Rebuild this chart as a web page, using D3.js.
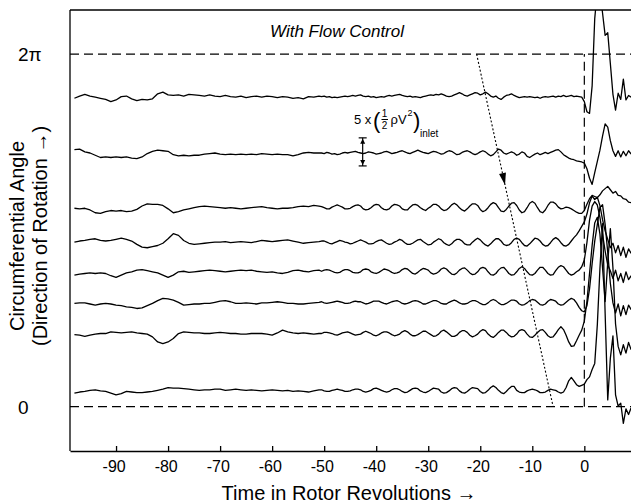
<!DOCTYPE html>
<html>
<head>
<meta charset="utf-8">
<script src="https://cdn.jsdelivr.net/npm/d3@7"></script>
<style>
  body { margin: 0; background: #fff; }
  svg text { font-family: "Liberation Sans", Arial, sans-serif; fill: #000; }
</style>
</head>
<body>
<div id="chart"></div>
<script>
const width = 631;
const height = 504;

// sample times (rotor revolutions): 1 rev steps, then 0.5 rev steps
const revs = [
  -98,-97,-96,-95,-94,-93,-92,-91,-90,-89,-88,-87,
  -86,-85,-84,-83,-82,-81,-80,-79,-78,-77,-76,-75,
  -74,-73,-72,-71,-70,-69,-68,-67,-66,-65,-64,-63,
  -62,-61,-60,-59,-58,-57,-56,-55,-54,-53,-52,-51,
  -50.5,-50,-49.5,-49,-48.5,-48,-47.5,-47,-46.5,-46,-45.5,-45,-44.5,-44,-43.5,
  -43,-42.5,-42,-41.5,-41,-40.5,-40,-39.5,-39,-38.5,-38,-37.5,-37,-36.5,-36,
  -35.5,-35,-34.5,-34,-33.5,-33,-32.5,-32,-31.5,-31,-30.5,-30,-29.5,-29,-28.5,
  -28,-27.5,-27,-26.5,-26,-25.5,-25,-24.5,-24,-23.5,-23,-22.5,-22,-21.5,-21,
  -20.5,-20,-19.5,-19,-18.5,-18,-17.5,-17,-16.5,-16,-15.5,-15,-14.5,-14,-13.5,
  -13,-12.5,-12,-11.5,-11,-10.5,-10,-9.5,-9,-8.5,-8,-7.5,-7,-6.5,-6,
  -5.5,-5,-4.5,-4,-3.5,-3,-2.5,-2,-1.5,-1,-0.5,
  0,0.5,1,1.5,2,2.5,3,3.5,4,4.5,5,5.5,6,6.5,7,7.5,8,8.5,9
];

// sensor positions round the annulus (degrees)
const sensorDeg = [316, 259, 202, 168, 136, 106, 73, 15];

// pressure traces in units of (1/2 rho V^2) inlet, one value per sample time
const trace1 = [
  -0.2,0.2,0.5,0.2,0.0,-0.2,-0.4,-0.8,-0.5,0.1,0.2,-0.3,
  -0.6,-0.4,-0.5,-0.3,0.6,0.9,0.4,0.3,0.4,0.2,0.5,0.4,
  0.3,0.2,0.4,0.2,0.1,0.3,0.1,0.0,0.2,-0.1,0.1,0.2,
  0.0,0.2,0.1,-0.1,0.1,0.0,-0.2,-0.1,-0.3,0.1,0.0,0.2,
  0.1,0.2,0.0,0.1,-0.1,0.0,-0.1,0.0,0.1,0.2,0.1,0.2,0.3,0.2,0.3,
  0.4,0.2,0.1,0.2,0.0,0.1,-0.1,0.0,0.1,0.0,0.2,0.3,0.2,0.3,0.4,
  0.5,0.3,0.2,0.1,0.2,0.0,0.1,0.0,-0.1,0.1,0.2,0.3,0.4,0.3,0.5,
  0.4,0.6,0.4,0.2,0.1,0.2,0.4,0.6,0.8,0.6,0.3,0.2,0.4,0.6,0.8,
  0.7,0.4,0.6,0.9,0.6,0.2,0.0,0.2,-0.2,-0.4,0.0,0.3,0.4,0.6,0.3,
  0.1,-0.1,0.0,0.1,0.0,0.1,0.0,-0.1,0.0,-0.2,0.0,0.1,0.0,0.1,0.2,
  0.0,0.2,0.1,0.3,0.1,0.2,0.3,0.1,0.2,0.1,0.0,
  -0.8,-2.6,-2.9,2.0,14,19,19,15,11,11.5,6,0.5,-2.3,0.7,-0.4,3.2,-0.5,0.3,0.0
];
const trace2 = [
  0.6,0.7,0.2,0.0,-0.4,-0.8,-0.7,-0.8,-0.7,-0.8,-0.7,-0.9,
  -1.0,-0.7,-0.1,0.3,0.5,0.4,0.3,-0.3,-0.5,-0.4,-0.5,-0.4,
  -0.4,-0.2,-0.1,0.0,-0.2,-0.3,-0.2,-0.3,-0.2,-0.3,-0.2,-0.3,
  -0.1,-0.2,-0.3,-0.2,-0.3,-0.3,-0.5,-0.3,0.0,0.1,0.0,0.0,
  0.0,-0.1,0.1,0.0,-0.2,-0.1,-0.3,-0.2,0.0,0.1,0.0,0.1,0.2,0.3,0.1,
  0.0,-0.1,0.0,0.2,0.1,0.0,-0.2,-0.1,0.0,0.2,0.3,0.1,-0.1,0.0,0.1,
  0.3,0.4,0.2,0.0,-0.1,0.1,0.3,0.5,0.3,0.1,0.0,-0.1,0.1,0.3,0.2,
  0.0,-0.2,-0.1,0.2,0.4,0.3,0.0,-0.3,-0.2,0.1,0.3,0.4,0.2,-0.1,-0.3,
  -0.1,0.2,0.4,0.2,-0.2,-0.5,-0.3,0.2,0.7,0.5,0.0,-0.2,0.0,0.2,0.0,
  -0.4,-0.2,0.2,0.0,-0.6,-0.8,-0.5,-0.2,0.0,-0.3,-0.1,0.1,-0.1,0.1,0.3,
  0.5,0.6,0.2,-0.3,-0.6,-0.9,-1.1,-1.2,-1.4,-1.5,-1.6,
  -1.8,-2.8,-4.5,-5.6,-3.5,-1.5,0.5,3.0,5.2,4.6,2.2,0.4,-0.6,0.4,-0.7,0.3,-0.5,0.4,-0.2
];
const trace3 = [
  0.1,0.0,0.1,-0.2,-0.7,-0.8,-0.5,-0.3,-0.4,-0.3,-0.5,-0.4,
  -0.1,0.5,0.9,0.8,0.8,0.6,0.0,-0.7,-0.5,-0.2,0.0,0.2,
  0.4,0.5,0.4,0.3,0.2,0.1,0.2,0.1,0.0,0.1,0.2,0.3,
  0.4,0.2,0.1,0.0,0.1,0.1,0.2,0.4,0.5,0.4,0.6,0.5,
  0.4,0.2,0.0,0.0,0.3,0.5,0.7,0.5,0.3,0.0,0.0,0.1,0.4,0.6,0.7,
  0.5,0.0,-0.2,-0.1,0.2,0.6,0.8,0.7,0.2,-0.1,-0.2,0.0,0.5,0.8,0.7,
  0.5,0.0,-0.2,-0.2,0.3,0.7,0.8,0.6,0.2,-0.1,-0.3,0.1,0.4,0.8,0.8,
  0.5,0.0,-0.3,-0.2,0.2,0.7,1.0,0.7,0.2,-0.2,-0.4,0.0,0.5,0.9,0.9,
  0.6,-0.1,-0.5,-0.3,0.2,0.8,1.1,0.9,0.2,-0.4,-0.5,-0.1,0.5,1.0,1.1,
  0.6,-0.2,-0.7,-0.5,0.2,1.0,1.3,1.0,0.2,-0.5,-0.7,-0.2,0.6,1.2,1.2,
  0.9,0.3,0.0,0.1,0.3,0.2,0.0,-0.3,-0.6,-0.8,-0.8,
  -0.3,0.8,1.8,2.4,2.2,2.0,2.5,3.2,3.6,4.0,3.4,2.8,3.1,2.4,2.3,1.8,1.7,1.2,1.1
];
const trace4 = [
  0.0,0.2,0.3,0.5,0.6,0.3,0.2,0.3,0.5,0.7,0.5,0.2,
  -0.4,-0.9,-1.0,-0.8,-0.6,-0.2,0.6,1.5,1.2,0.3,-0.2,-0.4,
  -0.3,-0.2,-0.1,0.0,0.0,0.1,-0.1,0.0,0.1,0.0,-0.1,0.1,
  0.3,0.2,0.1,0.2,0.3,0.4,0.2,0.0,-0.2,-0.1,0.0,0.1,
  0.2,0.2,0.0,-0.2,-0.3,-0.1,0.1,0.3,0.2,0.0,-0.1,-0.3,-0.2,0.0,0.2,
  0.4,0.2,0.0,-0.3,-0.3,-0.2,0.1,0.3,0.4,0.1,-0.2,-0.4,-0.3,0.0,0.2,
  0.5,0.3,-0.1,-0.4,-0.4,-0.2,0.1,0.4,0.5,0.1,-0.2,-0.5,-0.4,0.0,0.3,
  0.6,0.4,-0.1,-0.4,-0.6,-0.3,0.2,0.5,0.5,0.2,-0.3,-0.5,-0.5,0.0,0.4,
  0.7,0.4,-0.1,-0.5,-0.7,-0.3,0.2,0.6,0.6,0.2,-0.4,-0.6,-0.5,-0.1,0.5,
  0.7,0.5,-0.1,-0.6,-0.7,-0.3,0.2,0.7,0.6,0.2,-0.4,-0.7,-0.6,-0.1,0.5,
  0.8,0.5,-0.1,-0.6,-0.7,-0.4,0.2,0.8,1.3,2.0,2.8,
  3.6,5.0,7.0,8.2,7.6,8.0,6.5,4.0,2.0,0.5,-1.0,-0.2,-1.9,-0.6,-2.4,-0.9,-2.7,-1.2,-2.0
];
const trace5 = [
  -0.3,-0.1,0.0,0.1,0.0,0.1,0.0,-0.4,-0.7,-0.3,0.1,0.3,
  0.6,0.7,0.5,0.3,0.1,-0.3,-0.7,-0.3,0.3,0.4,0.2,0.3,
  0.4,0.5,0.6,0.5,0.4,0.3,0.4,0.5,0.6,0.5,0.6,0.4,
  0.3,0.2,0.3,0.1,0.0,0.2,0.5,0.6,0.4,0.3,0.5,0.6,
  0.4,0.6,0.7,0.6,0.4,0.2,0.1,0.2,0.5,0.7,0.7,0.5,0.2,0.1,0.1,
  0.3,0.7,0.8,0.7,0.3,0.1,0.0,0.2,0.5,0.8,0.7,0.5,0.2,0.0,0.1,
  0.3,0.7,0.9,0.8,0.4,0.0,-0.1,0.2,0.6,0.9,0.8,0.6,0.1,-0.1,0.0,
  0.3,0.8,1.0,0.8,0.3,-0.1,-0.2,0.1,0.6,0.9,1.0,0.6,0.1,-0.2,-0.1,
  0.3,0.9,1.1,0.9,0.3,-0.2,-0.3,0.0,0.6,1.0,1.1,0.6,0.0,-0.3,-0.2,
  0.3,0.9,1.2,0.9,0.3,-0.2,-0.3,0.0,0.6,1.1,1.1,0.6,0.0,-0.3,-0.2,
  0.5,1.1,1.4,1.2,0.6,0.0,-0.3,-0.1,0.3,0.6,1.2,
  2.4,5.5,9.5,12.0,12.8,12.2,10.0,7.0,4.0,1.5,0.5,-0.9,0.6,-1.3,0.0,-1.6,0.3,-1.1,-0.4
];
const trace6 = [
  -0.1,0.0,0.0,-0.2,-0.4,-0.2,-0.1,-0.2,-0.4,-0.5,-0.7,-0.8,
  -1.0,-0.9,-0.5,-0.1,0.4,0.8,0.7,0.5,0.1,-0.4,-0.3,-0.2,
  -0.2,-0.1,-0.1,0.1,0.3,0.4,0.2,-0.1,-0.1,0.0,-0.1,-0.2,
  0.0,0.0,0.1,0.2,0.1,-0.1,-0.1,-0.2,-0.2,-0.1,0.0,0.1,
  0.2,0.0,-0.1,0.0,0.1,0.2,0.3,0.2,0.1,-0.1,-0.1,0.0,0.2,0.3,0.2,
  0.2,0.0,-0.2,-0.1,0.1,0.3,0.3,0.3,0.1,-0.1,-0.2,0.0,0.2,0.3,0.4,
  0.2,-0.1,-0.2,-0.1,0.1,0.3,0.4,0.3,0.1,-0.2,-0.2,0.0,0.2,0.4,0.4,
  0.2,-0.1,-0.2,-0.2,0.1,0.3,0.5,0.3,0.0,-0.2,-0.2,-0.1,0.2,0.4,0.4,
  0.2,-0.1,-0.3,-0.3,0.0,0.4,0.6,0.4,0.0,-0.3,-0.3,-0.1,0.2,0.5,0.5,
  0.3,-0.2,-0.4,-0.3,0.0,0.4,0.6,0.5,0.1,-0.3,-0.4,-0.2,0.3,0.6,0.5,
  0.3,-0.2,-0.4,-0.3,0.1,0.5,0.8,0.6,0.0,-0.8,-1.4,
  -1.6,-0.5,2.5,7.0,11.0,14.0,17.0,17.5,14.0,9.0,3.5,0.0,-1.8,-0.2,-2.3,-0.5,-2.1,-0.4,-1.2
];
const trace7 = [
  0.1,0.0,-0.2,0.0,0.2,0.3,0.3,0.6,0.5,0.4,0.5,0.6,
  0.4,0.3,0.2,-0.3,-1.2,-1.5,-1.2,-0.6,0.3,0.6,0.5,0.4,
  0.4,0.3,0.3,0.4,0.5,0.4,0.3,0.3,0.2,0.2,0.3,0.3,
  0.3,0.2,0.0,0.4,0.9,0.6,0.4,0.3,0.4,0.3,0.2,0.3,
  0.3,0.5,0.5,0.4,0.3,0.1,0.0,0.2,0.4,0.5,0.6,0.4,0.2,0.0,0.1,
  0.2,0.5,0.7,0.5,0.3,0.0,-0.1,0.1,0.4,0.6,0.6,0.4,0.1,-0.1,0.0,
  0.2,0.6,0.8,0.6,0.2,-0.1,-0.1,0.1,0.4,0.7,0.7,0.4,0.1,-0.2,-0.1,
  0.2,0.7,0.9,0.6,0.2,-0.2,-0.2,0.0,0.5,0.8,0.8,0.5,0.0,-0.3,-0.1,
  0.2,0.7,1.0,0.8,0.2,-0.2,-0.4,0.0,0.5,0.9,0.9,0.5,0.0,-0.3,-0.2,
  0.2,0.8,1.0,0.8,0.2,-0.3,-0.4,0.0,0.5,0.9,1.0,0.5,-0.1,-0.4,-0.3,
  0.3,1.0,1.5,1.0,0.0,-1.2,-2.0,-1.9,-1.0,0.0,0.9,
  2.5,6.0,11.0,16.0,20.0,21.0,18.0,12.0,6.0,13.0,19.0,12.0,2.0,-2.0,-3.5,-1.7,-3.2,-1.3,-2.6
];
const trace8 = [
  -0.2,0.0,0.1,0.3,0.4,0.2,0.1,-0.2,-0.5,-0.3,0.1,0.0,
  -0.1,-0.1,0.0,0.1,0.3,0.5,0.8,0.7,0.7,0.6,0.5,0.4,
  0.3,0.4,0.4,0.5,0.5,0.3,0.4,0.5,0.4,0.3,0.4,0.3,
  0.2,0.3,0.4,0.3,0.2,0.3,0.1,0.2,0.1,0.0,0.2,0.4,
  0.4,0.2,0.1,0.1,0.3,0.4,0.5,0.4,0.3,0.1,0.1,0.2,0.4,0.5,0.5,
  0.4,0.1,0.0,0.1,0.3,0.6,0.7,0.5,0.3,0.1,0.0,0.1,0.4,0.6,0.6,
  0.4,0.1,-0.1,0.0,0.3,0.6,0.7,0.6,0.2,0.0,-0.1,0.1,0.4,0.7,0.6,
  0.5,0.0,-0.2,-0.1,0.2,0.6,0.8,0.7,0.2,-0.1,-0.2,0.1,0.5,0.8,0.7,
  0.6,0.1,-0.2,-0.1,0.3,0.8,1.1,0.8,0.3,-0.1,-0.3,0.1,0.6,1.0,1.0,
  0.3,0.0,-0.1,-0.1,0.2,0.4,0.5,0.4,0.2,-0.1,-0.1,0.0,0.3,0.5,0.4,
  0.3,0.0,-0.2,0.0,0.8,2.0,2.6,2.0,1.3,1.0,1.2,
  1.4,2.2,2.7,4.0,5.1,12.0,22.0,30.0,14.0,-1.4,6.0,10.0,-0.5,-2.5,-2.0,-5.6,-3.0,-4.0,-2.8
];

const traceValues = [trace1, trace2, trace3, trace4, trace5, trace6, trace7, trace8];

const xTicks = [-90, -80, -70, -60, -50, -40, -30, -20, -10, 0];
const angleLabels = [{ value: 0, label: "0" }, { value: 2 * Math.PI, label: "2\u03c0" }];
const scaleBarUnits = 5;          // length of the scale bar in (1/2 rho V^2)
const radPerUnit = 0.1;           // how many radians of the plot one pressure unit takes
const stallPath = [[-20.7, 2 * Math.PI], [-6.0, 0]];   // dotted line of the stall cell
const stallArrowAt = 3.95;        // angle of the arrow head on it
const scaleBarAt = { rev: -42.6, angle: 4.79 };

traceValues.forEach((t, i) => {
  if (t.length !== revs.length) console.warn("trace", i + 1, "has", t.length, "values");
});

const x = d3.scaleLinear().domain([-98.85, 8.97]).range([70, 631]);
const y = d3.scaleLinear().domain([-0.789, 7.068]).range([451, 10]);

const svg = d3.select("#chart").append("svg")
  .attr("width", width)
  .attr("height", height)
  .attr("viewBox", "0 0 " + width + " " + height);

svg.append("defs").append("clipPath").attr("id", "plot-clip")
  .append("rect")
  .attr("x", x.range()[0]).attr("y", y.range()[1])
  .attr("width", x.range()[1] - x.range()[0])
  .attr("height", y.range()[0] - y.range()[1]);

// frame: left axis, top line
svg.append("line")
  .attr("x1", x.range()[0]).attr("x2", x.range()[0])
  .attr("y1", y.range()[1]).attr("y2", y.range()[0])
  .attr("stroke", "#000").attr("stroke-width", 1.3);
svg.append("line")
  .attr("x1", x.range()[0]).attr("x2", x.range()[1])
  .attr("y1", y.range()[1]).attr("y2", y.range()[1])
  .attr("stroke", "#000").attr("stroke-width", 1.3);

// bottom axis, ticks pointing in
const xAxis = d3.axisBottom(x)
  .tickValues(xTicks)
  .tickFormat(d => String(d))
  .tickSizeInner(-5)
  .tickSizeOuter(0)
  .tickPadding(10);

const gx = svg.append("g")
  .attr("transform", "translate(0," + y.range()[0] + ")")
  .call(xAxis);
gx.select(".domain").attr("stroke-width", 1.3);
gx.selectAll(".tick line").attr("stroke-width", 1.3);
gx.selectAll(".tick text")
  .style("font-size", "16px")
  .attr("dx", d => d < 0 ? "-0.15em" : 0);

// angle labels
svg.selectAll("text.angle")
  .data(angleLabels)
  .enter().append("text")
  .attr("class", "angle")
  .attr("x", 18)
  .attr("y", d => y(d.value))
  .attr("dy", "0.36em")
  .style("font-size", "19px")
  .text(d => d.label);

// dashed reference box
const plot = svg.append("g").attr("clip-path", "url(#plot-clip)");
const dash = "9,5";
[0, 2 * Math.PI].forEach(a => {
  plot.append("line")
    .attr("x1", x.range()[0]).attr("x2", x.range()[1])
    .attr("y1", y(a)).attr("y2", y(a))
    .attr("stroke", "#000").attr("stroke-width", 1.2)
    .attr("stroke-dasharray", dash);
});
plot.append("line")
  .attr("x1", x(0)).attr("x2", x(0))
  .attr("y1", y(0)).attr("y2", y(2 * Math.PI))
  .attr("stroke", "#000").attr("stroke-width", 1.2)
  .attr("stroke-dasharray", dash);

// traces
const line = d3.line()
  .x(d => x(d[0]))
  .y(d => y(d[1]));

traceValues.forEach((vals, i) => {
  const base = sensorDeg[i] * Math.PI / 180;
  const pts = revs.map((r, j) => [r, base + radPerUnit * vals[j]]);
  plot.append("path")
    .datum(pts)
    .attr("fill", "none")
    .attr("stroke", "#000")
    .attr("stroke-width", 1.3)
    .attr("stroke-linejoin", "round")
    .attr("d", line);
});

// dotted stall-cell line with arrow head
plot.append("line")
  .attr("x1", x(stallPath[0][0])).attr("y1", y(stallPath[0][1]))
  .attr("x2", x(stallPath[1][0])).attr("y2", y(stallPath[1][1]))
  .attr("stroke", "#000").attr("stroke-width", 1.1)
  .attr("stroke-dasharray", "2,2");

(function () {
  const f = (stallPath[0][1] - stallArrowAt) / (stallPath[0][1] - stallPath[1][1]);
  const tipX = x(stallPath[0][0] + f * (stallPath[1][0] - stallPath[0][0]));
  const tipY = y(stallArrowAt);
  const dx = x(stallPath[1][0]) - x(stallPath[0][0]);
  const dy = y(stallPath[1][1]) - y(stallPath[0][1]);
  const ang = Math.atan2(dy, dx) * 180 / Math.PI;
  plot.append("path")
    .attr("d", "M0,0 L-12,-3.5 L-12,3.5 Z")
    .attr("transform", "translate(" + tipX + "," + tipY + ") rotate(" + ang + ")")
    .attr("fill", "#000");
})();

// scale bar
(function () {
  const bx = x(scaleBarAt.rev);
  const yTop = y(scaleBarAt.angle);
  const yBot = y(scaleBarAt.angle - scaleBarUnits * radPerUnit);
  const g = svg.append("g").attr("stroke", "#000").attr("stroke-width", 1.2);
  g.append("line").attr("x1", bx).attr("x2", bx).attr("y1", yTop).attr("y2", yBot);
  g.append("line").attr("x1", bx - 4).attr("x2", bx + 4).attr("y1", yTop).attr("y2", yTop);
  g.append("line").attr("x1", bx - 4).attr("x2", bx + 4).attr("y1", yBot).attr("y2", yBot);
  svg.append("path").attr("d", `M${bx},${yTop + 1} l-2.5,5 h5 Z`).attr("fill", "#000");
  svg.append("path").attr("d", `M${bx},${yBot - 1} l-2.5,-5 h5 Z`).attr("fill", "#000");

  const t = svg.append("g");
  t.append("text").attr("x", 354).attr("y", 124).style("font-size", "13px").text("5 x");
  t.append("text").attr("x", 373).attr("y", 128).style("font-size", "22px").text("(");
  t.append("text").attr("x", 384.5).attr("y", 117).attr("text-anchor", "middle").style("font-size", "10px").text("1");
  t.append("line").attr("x1", 381.5).attr("x2", 388).attr("y1", 119.5).attr("y2", 119.5)
    .attr("stroke", "#000").attr("stroke-width", 1);
  t.append("text").attr("x", 384.5).attr("y", 129).attr("text-anchor", "middle").style("font-size", "10px").text("2");
  t.append("text").attr("x", 390.5).attr("y", 124).style("font-size", "13px").text("\u03c1V");
  t.append("text").attr("x", 407.5).attr("y", 116).style("font-size", "9px").text("2");
  t.append("text").attr("x", 413).attr("y", 128).style("font-size", "22px").text(")");
  t.append("text").attr("x", 420).attr("y", 137).style("font-size", "10px").text("inlet");
})();

// title and axis labels
svg.append("text")
  .attr("x", 337).attr("y", 37)
  .attr("text-anchor", "middle")
  .style("font-size", "17px")
  .style("font-style", "italic")
  .text("With Flow Control");

svg.append("text")
  .attr("x", 349).attr("y", 500)
  .attr("text-anchor", "middle")
  .style("font-size", "20px")
  .text("Time in Rotor Revolutions  \u2192");

const ylab = svg.append("g").attr("transform", "translate(0,236) rotate(-90)");
ylab.append("text")
  .attr("x", 0).attr("y", 17)
  .attr("dy", "0.35em")
  .attr("text-anchor", "middle")
  .style("font-size", "20px")
  .text("Circumferential Angle");
ylab.append("text")
  .attr("x", 0).attr("y", 40)
  .attr("dy", "0.35em")
  .attr("text-anchor", "middle")
  .style("font-size", "20px")
  .text("(Direction of Rotation \u2192)");
</script>
</body>
</html>
